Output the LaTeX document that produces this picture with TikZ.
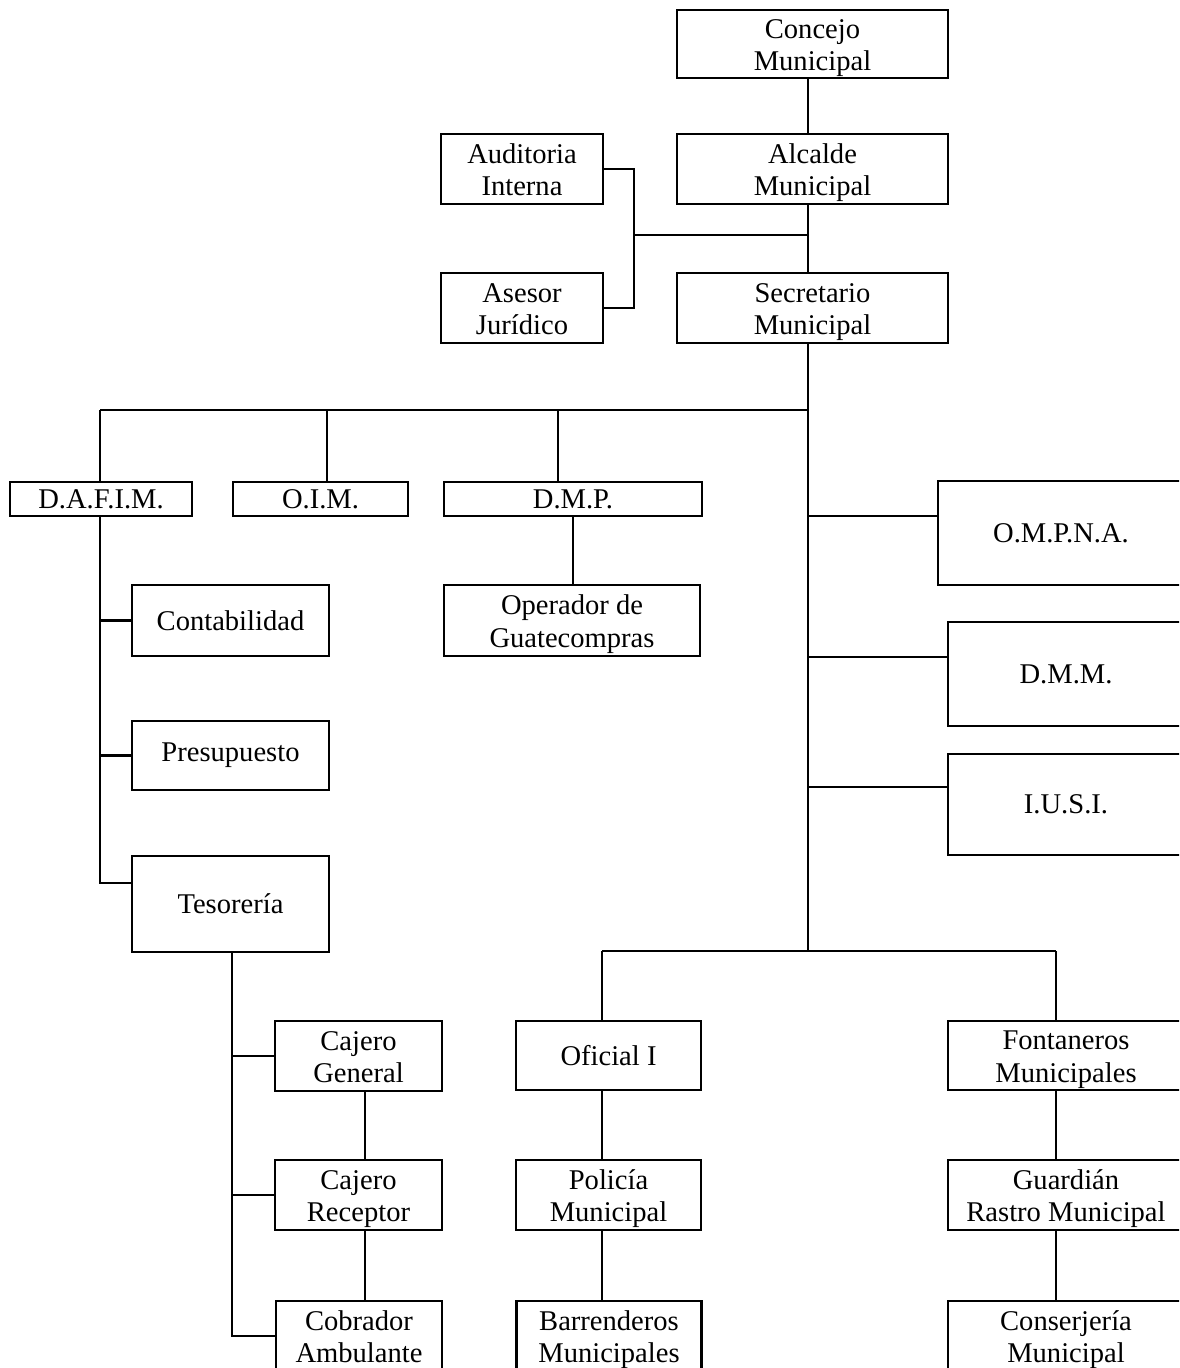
\documentclass[tikz,border=0pt]{standalone}
\usepackage{fontspec}
\setmainfont{Liberation Serif}
\usepackage{tikz}
\usetikzlibrary{calc,positioning}

\tikzset{orgbox/.style 2 args={minimum width=#1*0.42pt, minimum height=#2*0.42pt},
         twoline/.style={text height=25.2pt, text depth=2.6pt}}

\begin{document}
\begin{tikzpicture}[x=0.42pt, y=-0.42pt, line width=0.85pt]
	\tikzstyle{every node} = [draw = black, rectangle, align = center, inner sep = 0pt, line width = 0.85pt, font = \fontsize{12}{13.8}\selectfont]
\useasboundingbox (0, 0) rectangle (1179, 1368);
\clip (0, 0) rectangle (1179, 1368);

% upper part
\node[orgbox = {271}{68}, twoline] (concejo) at (812.5, 44) {Concejo\\Municipal};
\node[orgbox = {271}{70}, twoline] (alcalde) at (812.5, 169) {Alcalde\\Municipal};
\node[orgbox = {162}{70}, twoline] (auditoria) at (522, 169) {Auditoria\\Interna};
\node[orgbox = {162}{70}, twoline] (asesor) at (522, 308) {Asesor\\Jurídico};
\node[orgbox = {271}{70}, twoline] (secretario) at (812.5, 308) {Secretario\\Municipal};

% second level
\node[orgbox = {182}{34}] (dafim) at (101, 499) {D.A.F.I.M.};
\node[orgbox = {175}{34}] (oim) at (320.5, 499) {O.I.M.};
\node[orgbox = {258}{34}] (dmp) at (573, 499) {D.M.P.};
\node[orgbox = {256}{71}, twoline] (operador) at (572, 620.5) {Operador de\\Guatecompras};
\node[orgbox = {246}{104}] (ompna) at (1061, 533) {O.M.P.N.A.};
\node[orgbox = {236}{104}] (dmm) at (1066, 674) {D.M.M.};
\node[orgbox = {236}{101}] (iusi) at (1066, 804.5) {I.U.S.I.};

% D.A.F.I.M.
\node[orgbox = {197}{71}] (contab) at (230.5, 620.5) {Contabilidad};
\node[orgbox = {197}{69}] (presup) at (230.5, 755.5) {Presupuesto};
\node[orgbox = {197}{96}] (tesor) at (230.5, 904) {Tesorería};
\node[orgbox = {167}{70}, twoline] (cajgen) at (358.5, 1056) {Cajero\\General};
\node[orgbox = {167}{70}, twoline] (cajrec) at (358.5, 1195) {Cajero\\Receptor};
\node[orgbox = {166}{70}, twoline] (cobrador) at (359, 1336) {Cobrador\\Ambulante};

% lower part
\node[orgbox = {185}{69}] (oficial) at (608.5, 1055.5) {Oficial I};
\node[orgbox = {185}{70}, twoline] (policia) at (608.5, 1195) {Policía\\Municipal};
\node[orgbox = {185}{70}, twoline] (barrend) at (609, 1336) {Barrenderos\\Municipales};
\node[orgbox = {236}{69}, twoline] (fontan) at (1066, 1055.5) {Fontaneros\\Municipales};
\node[orgbox = {236}{70}, twoline] (guardian) at (1066, 1195) {Guardián\\Rastro Municipal};
\node[orgbox = {236}{70}, twoline] (conserj) at (1066, 1336) {Conserjería\\Municipal};

% junctions
\coordinate (sp) at (808, 0);
\coordinate (br) at (634, 235);
\coordinate (h1) at (0, 410);
\coordinate (h2) at (0, 951);
\coordinate (da) at (100, 0);
\coordinate (oi) at (327, 0);
\coordinate (dm) at (558, 0);
\coordinate (te) at (232, 0);
\coordinate (cj) at (365, 0);
\coordinate (of) at (602, 0);
\coordinate (fo) at (1056, 0);
\coordinate (r1) at (0, 516);
\coordinate (r2) at (0, 657);
\coordinate (r3) at (0, 787);
\coordinate (t1) at (0, 883);

	\path[draw] (concejo.south -| sp) -- (alcalde.north -| sp);
	\path[draw] (alcalde.south -| sp) -- (secretario.north -| sp);
	\path[draw] (auditoria.east) -| (br) |- (asesor.east);
	\path[draw] (br) -- (br -| sp);
	\path[draw] (secretario.south -| sp) -- (h2 -| sp);
	\path[draw] (h1 -| da) -- (h1 -| sp);
	\path[draw] (h1 -| da) -- (dafim.north -| da);
	\path[draw] (h1 -| oi) -- (oim.north -| oi);
	\path[draw] (h1 -| dm) -- (dmp.north -| dm);
	\path[draw] (dmp.south) -- (dmp.south |- operador.north);
	\path[draw] (sp |- r1) -- (ompna.west |- r1);
	\path[draw] (sp |- r2) -- (dmm.west |- r2);
	\path[draw] (sp |- r3) -- (iusi.west |- r3);
	\path[draw] (dafim.south -| da) -- (da |- t1) -- (tesor.west |- t1);
	\path[draw] (da |- contab.west) -- (contab.west);
	\path[draw] (da |- presup.west) -- (presup.west);
	\path[draw] (tesor.south -| te) -- (te |- cobrador.west) -- (cobrador.west);
	\path[draw] (te |- cajgen.west) -- (cajgen.west);
	\path[draw] (te |- cajrec.west) -- (cajrec.west);
	\path[draw] (cajgen.south -| cj) -- (cajrec.north -| cj);
	\path[draw] (cajrec.south -| cj) -- (cobrador.north -| cj);
    \path[draw] (h2 -| of) -- (h2 -| fo);
    \path[draw] (h2 -| of) -- (oficial.north -| of);
    \path[draw] (oficial.south -| of) -- (policia.north -| of);
    \path[draw] (policia.south -| of) -- (barrend.north -| of);
    \path[draw] (h2 -| fo) -- (fontan.north -| fo);
    \path[draw] (fontan.south -| fo) -- (guardian.north -| fo);
    \path[draw] (guardian.south -| fo) -- (conserj.north -| fo);
	\end{tikzpicture}
\end{document}
